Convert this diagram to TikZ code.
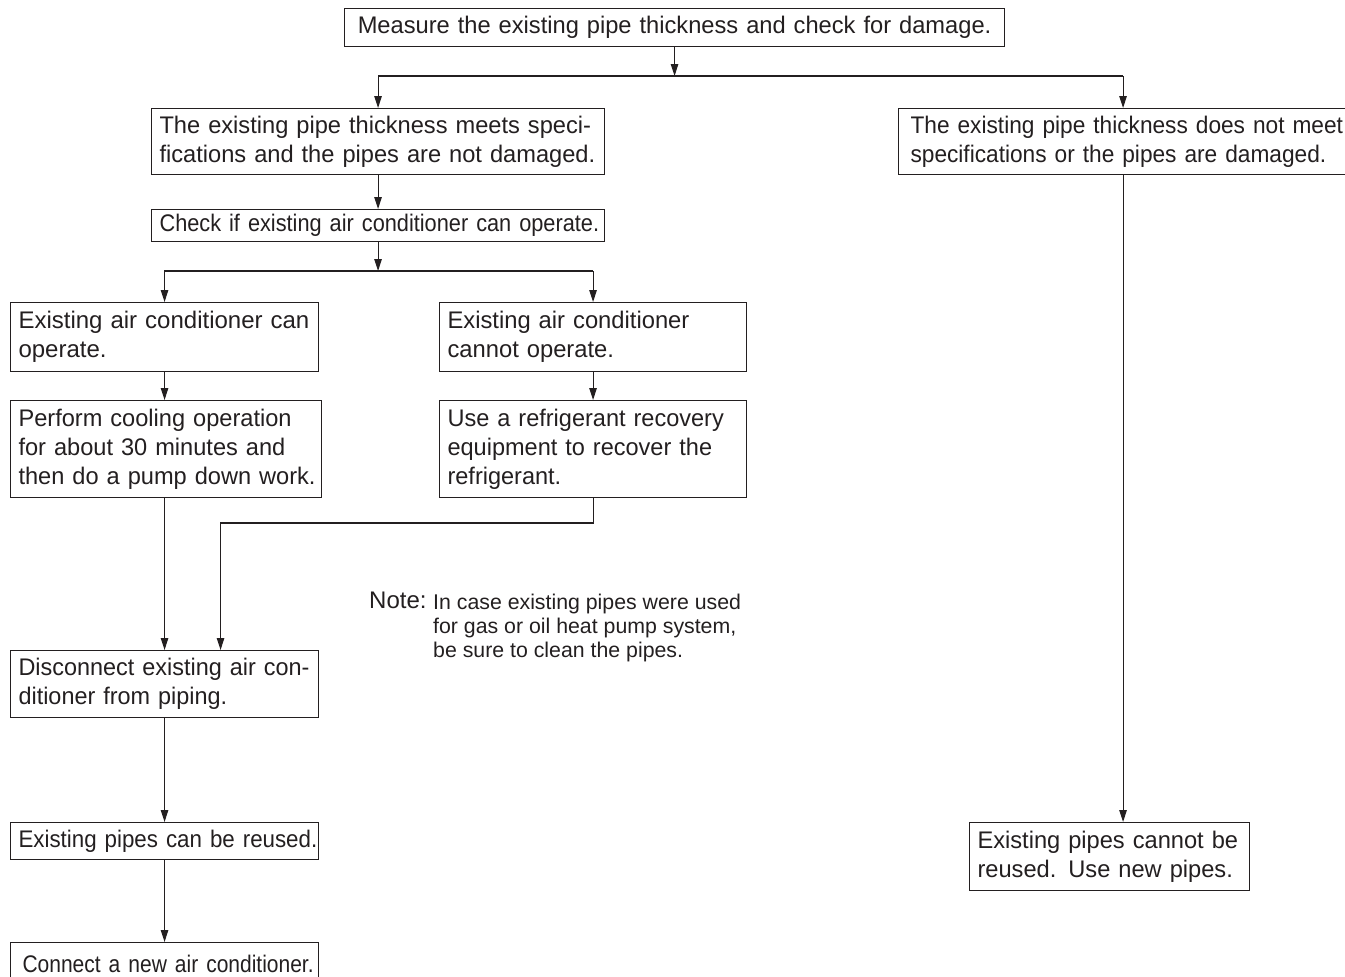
\documentclass[tikz,border=0pt]{standalone}
\usepackage{fontspec}
\setmainfont{Liberation Sans}
\usetikzlibrary{arrows.meta}
\definecolor{ink}{HTML}{231F20}
\tikzset{
  box/.style={draw=ink, line width=1.1pt, rectangle, anchor=north west, inner xsep=8pt, inner ysep=0pt, align=left, text=ink, font=\fontsize{24}{29}\selectfont},
  sx/.style={font=\fontsize{24}{29}\selectfont\addfontfeature{FakeStretch=#1}},
  arr/.style={draw=ink, line width=1.1pt, -{Triangle[length=12pt,width=7.5pt]}},
  ln/.style={draw=ink, line width=1.1pt}
}
\newcommand{\bx}[7]{% name, x1,y1,x2,y2, options, text
  \node[box, #6, minimum width=#4pt-#2pt, minimum height=#5pt-#3pt, text width=#4pt-#2pt-16pt] (#1) at (#2pt,-#3pt) {#7};}
\newcommand{\ml}[1]{\mbox{#1}}
\begin{document}
\begin{tikzpicture}[x=1pt,y=1pt]
\useasboundingbox (0,0) rectangle (1345,-977);
\clip (0,0) rectangle (1345,-977);
\bx{top}{344}{8}{1004}{46}{align=center, sx=0.986}{\ml{Measure the existing pipe thickness and check for damage.}}
\bx{meets}{151}{108}{604}{174}{sx=0.985}{\ml{The existing pipe thickness meets speci-}\\\ml{fications and the pipes are not damaged.}}
\bx{notmeet}{898}{108}{1347}{174}{sx=0.945}{\ml{\hspace{4pt}The existing pipe thickness does not meet}\\\ml{\hspace{4pt}specifications or the pipes are damaged.}}
\bx{check}{151}{209}{604}{241}{sx=0.906}{\ml{Check if existing air conditioner can operate.}}
\bx{can}{10}{302}{318}{371}{}{\ml{Existing air conditioner can}\\\ml{operate.}}
\bx{cannot}{439}{302}{746}{371}{sx=0.99}{\ml{Existing air conditioner}\\\ml{cannot operate.}}
\bx{perform}{10}{400}{321}{497}{sx=0.983}{\ml{Perform cooling operation}\\\ml{for about 30 minutes and}\\\ml{then do a pump down work.}}
\bx{recover}{439}{400}{746}{497}{sx=0.98}{\ml{Use a refrigerant recovery}\\\ml{equipment to recover the}\\\ml{refrigerant.}}
\bx{disconnect}{10}{650}{318}{717}{sx=0.976}{\ml{Disconnect existing air con-}\\\ml{ditioner from piping.}}
\bx{reused}{10}{822}{318}{859}{sx=0.93}{\ml{Existing pipes can be reused.}}
\bx{connect}{10}{942}{318}{985}{sx=0.875}{\ml{\hspace{4pt}Connect a new air conditioner.}}
\bx{newpipes}{969}{822}{1249}{890}{sx=0.985}{\ml{Existing pipes cannot be}\\\ml{reused. Use new pipes.}}
\node[anchor=north west, inner sep=0pt, text=ink, font=\fontsize{24}{24}\selectfont] (notelabel) at (369,-592) {Note:};
\node[anchor=north west, inner sep=0pt, align=left, text=ink, font=\fontsize{21.3}{24}\selectfont] (notetext) at (433,-594) {In case existing pipes were used\\for gas or oil heat pump system,\\be sure to clean the pipes.};
% junction lines
\coordinate (h1) at (0,-76);
\coordinate (h2) at (0,-271);
\coordinate (h3) at (0,-523);
\draw[arr] (top.south) -- (top.south |- h1);
\draw[arr] (notmeet.north |- h1) -- (meets.north |- h1) -- (meets.north);
\draw[arr] (notmeet.north |- h1) -- (notmeet.north);
\draw[arr] (meets.south) -- (check.north);
\draw[arr] (check.south) -- (check.south |- h2);
\draw[arr] (cannot.north |- h2) -- (can.north |- h2) -- (can.north);
\draw[arr] (cannot.north |- h2) -- (cannot.north);
\draw[arr] (can.south) -- (can.south |- perform.north);
\draw[arr] (cannot.south) -- (recover.north);
\draw[arr] (disconnect.north |- perform.south) -- (disconnect.north);
\draw[arr] (recover.south) -- (recover.south |- h3) -| ([xshift=56pt]disconnect.north);
\draw[arr] (disconnect.south) -- (reused.north);
\draw[arr] (reused.south) -- (connect.north);
\draw[arr] (notmeet.south) -- (notmeet.south |- newpipes.north);
\end{tikzpicture}
\end{document}
